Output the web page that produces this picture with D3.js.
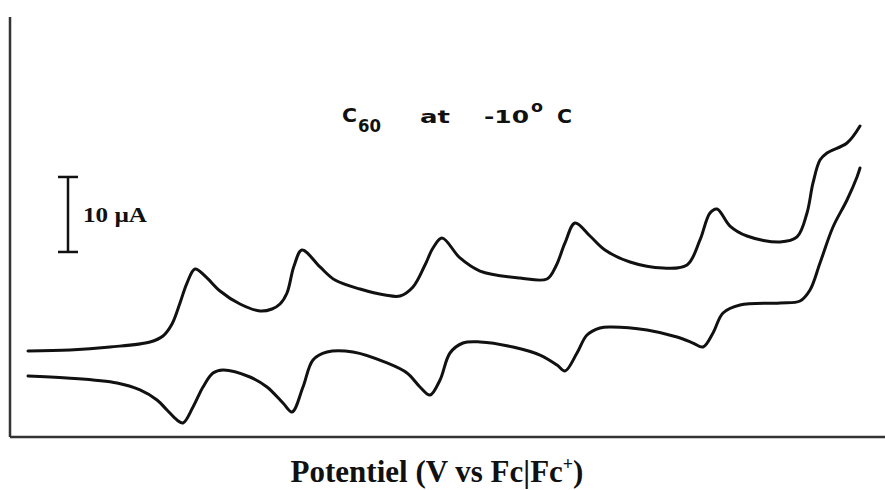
<!DOCTYPE html>
<html>
<head>
<meta charset="utf-8">
<script src="https://cdn.jsdelivr.net/npm/d3@7"></script>
<style>
  body { margin: 0; background: #fff; }
  svg { display: block; }
</style>
</head>
<body>
<svg id="chart" width="885" height="490"></svg>
<script>
// forward scan (upper trace), potential in V, current in uA
var fwdE = [-0.272, -0.44, -0.6, -0.76, -0.812, -0.848, -0.88, -0.908, -0.94, -0.98,
    -1.04, -1.12, -1.2, -1.248, -1.28, -1.308, -1.336, -1.368, -1.44, -1.5,
    -1.6, -1.7, -1.76, -1.812, -1.86, -1.892, -1.928, -2.0, -2.08, -2.24,
    -2.348, -2.384, -2.42, -2.46, -2.52, -2.58, -2.68, -2.812, -2.908, -2.96,
    -3.0, -3.028, -3.08, -3.148, -3.28, -3.348, -3.388, -3.412, -3.44, -3.468,
    -3.548, -3.6];
var fwdI = [1.47, 1.6, 2.0, 2.67, 3.47, 5.07, 7.87, 10.53, 12.4, 11.47,
    9.47, 7.73, 6.8, 7.07, 7.73, 9.2, 12.8, 14.93, 12.67, 10.93,
    9.73, 8.93, 8.8, 10, 12.93, 15.2, 16.53, 13.87, 12.13, 11.2,
    11.07, 12.8, 15.87, 18.53, 16.8, 14.93, 13.33, 12.53, 12.93, 16.27,
    19.87, 20.4, 18.13, 16.8, 16, 16.67, 19.87, 23.87, 26.93, 27.87,
    29.2, 31.47];

// reverse scan (lower trace)
var revE = [-0.272, -0.428, -0.628, -0.72, -0.788, -0.828, -0.868, -0.892, -0.932, -0.972,
    -1.012, -1.052, -1.16, -1.228, -1.292, -1.328, -1.372, -1.412, -1.468, -1.572,
    -1.708, -1.788, -1.84, -1.88, -1.92, -1.96, -2.012, -2.08, -2.212, -2.32,
    -2.388, -2.42, -2.468, -2.508, -2.56, -2.6, -2.748, -2.868, -2.932, -2.972,
    -3.012, -3.052, -3.12, -3.28, -3.36, -3.4, -3.44, -3.492, -3.548, -3.588,
    -3.6];
var revI = [-1.87, -2.13, -2.8, -3.73, -5.07, -6.4, -7.73, -8.13, -6, -3.33,
    -1.47, -1.07, -2, -3.33, -5.47, -6.67, -3.33, 0.27, 1.33, 1.33,
    -0.13, -1.47, -3.33, -4.4, -2.4, 1.2, 2.53, 2.67, 2.0, 0.93,
    -0.4, -1.2, 1.2, 3.6, 4.53, 4.67, 4.27, 3.33, 2.53, 2.0,
    3.87, 6.53, 7.6, 7.87, 8.13, 9.6, 13.2, 18, 21.6, 24.67,
    25.87];

var scaleBarUA = 10;
var scaleBarTop = 24.67; // uA level of the top cap of the 10 uA bar
var scaleBarE = -0.432;

var svg = d3.select("#chart");

var x = d3.scaleLinear().domain([-0.2, -3.7]).range([10, 885]);
var y = d3.scaleLinear().domain([-10, 46]).range([437, 17]);

var fwd = fwdE.map(function (e, i) { return [e, fwdI[i]]; });
var rev = revE.map(function (e, i) { return [e, revI[i]]; });

var line = d3.line()
    .x(function (d) { return x(d[0]); })
    .y(function (d) { return y(d[1]); })
    .curve(d3.curveCatmullRom.alpha(0.5));

// frame: left and bottom axis lines, no ticks
svg.append("line")
    .attr("x1", x(-0.2)).attr("x2", x(-0.2))
    .attr("y1", y(46)).attr("y2", y(-10))
    .attr("stroke", "#333").attr("stroke-width", 2.5);
svg.append("line")
    .attr("x1", x(-0.2)).attr("x2", x(-3.7))
    .attr("y1", y(-10)).attr("y2", y(-10))
    .attr("stroke", "#333").attr("stroke-width", 2.5);

svg.selectAll("path.trace")
    .data([fwd, rev])
    .enter().append("path")
    .attr("class", "trace")
    .attr("d", line)
    .attr("fill", "none")
    .attr("stroke", "#111")
    .attr("stroke-width", 3)
    .attr("stroke-linejoin", "round")
    .attr("stroke-linecap", "round");

// 10 uA scale bar
var bx = x(scaleBarE);
var by1 = y(scaleBarTop), by2 = y(scaleBarTop - scaleBarUA);
var bar = svg.append("g").attr("stroke", "#111").attr("stroke-width", 2.5);
bar.append("line").attr("x1", bx).attr("x2", bx).attr("y1", by1).attr("y2", by2);
bar.append("line").attr("x1", bx - 10).attr("x2", bx + 10).attr("y1", by1).attr("y2", by1);
bar.append("line").attr("x1", bx - 10).attr("x2", bx + 10).attr("y1", by2).attr("y2", by2);

svg.append("text")
    .attr("x", bx + 15).attr("y", 222)
    .attr("font-family", "Liberation Serif, serif")
    .attr("font-weight", "bold")
    .attr("font-size", 20)
    .attr("textLength", 64)
    .attr("lengthAdjust", "spacingAndGlyphs")
    .attr("fill", "#111")
    .text("10 \u00b5A");

// title inside the plot
var titleParts = [
    { s: "C", x: 342, y: 122, size: 19, w: 15 },
    { s: "60", x: 358, y: 132, size: 17, w: 23 },
    { s: "at", x: 420, y: 123, size: 18, w: 30 },
    { s: "-10", x: 484, y: 123, size: 18, w: 45 },
    { s: "o", x: 531, y: 112, size: 16, w: 12 },
    { s: "C", x: 557, y: 123, size: 19, w: 15 }
];
svg.append("g")
    .attr("font-family", "DejaVu Sans, sans-serif")
    .attr("font-weight", "bold")
    .attr("fill", "#111")
    .selectAll("text")
    .data(titleParts)
    .enter().append("text")
    .attr("x", function (d) { return d.x; })
    .attr("y", function (d) { return d.y; })
    .attr("font-size", function (d) { return d.size; })
    .attr("textLength", function (d) { return d.w; })
    .attr("lengthAdjust", "spacingAndGlyphs")
    .text(function (d) { return d.s; });

// x axis label
var xl = svg.append("text")
    .attr("x", 437).attr("y", 482)
    .attr("text-anchor", "middle")
    .attr("font-family", "Liberation Serif, serif")
    .attr("font-weight", "bold")
    .attr("font-size", 31)
    .attr("fill", "#111");
xl.append("tspan").text("Potentiel (V vs Fc|Fc");
xl.append("tspan").attr("dy", -12).attr("font-size", 18).text("+");
xl.append("tspan").attr("dy", 12).text(")");
</script>
</body>
</html>
